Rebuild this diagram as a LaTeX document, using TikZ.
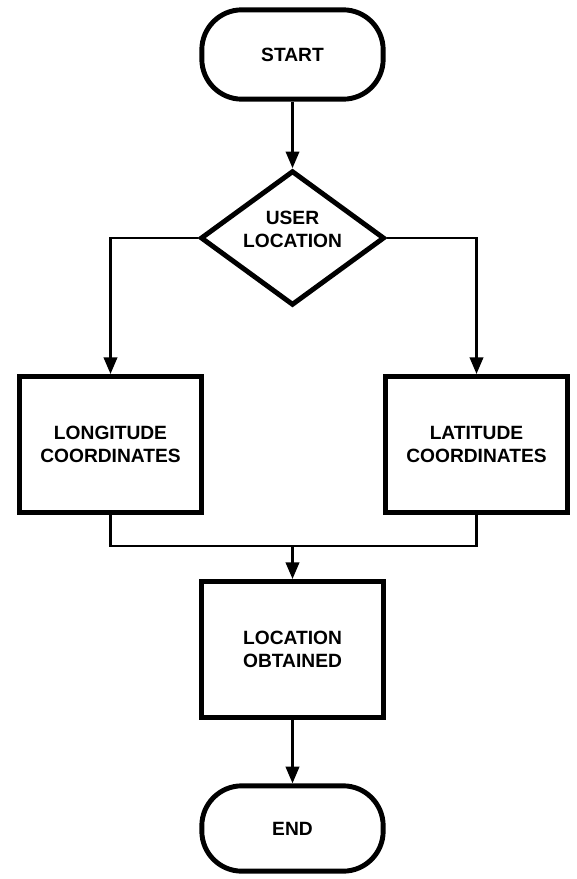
\documentclass[tikz,border=0pt]{standalone}
\usepackage{fontspec}
\setmainfont{Liberation Sans}
\usetikzlibrary{
        arrows.meta,
        positioning,
        shapes.geometric
    }
\tikzset{>={Triangle[width=10pt,length=12.5pt]},auto}
\tikzset{
    term/.style={draw,line width=3.7pt,rectangle,rounded corners=30pt,
        minimum width=136pt,minimum height=67pt,inner sep=0pt,align=center,
        font=\fontsize{14.4}{17.3}\selectfont\bfseries},
    proc/.style={draw,line width=3.7pt,rectangle,
        minimum width=136.5pt,minimum height=102pt,inner sep=0pt,align=center,
        font=\fontsize{14.4}{17.3}\selectfont\bfseries},
    dec/.style={draw,line width=3.7pt,diamond,
        minimum width=138pt,minimum height=101pt,inner sep=0pt},
    txt/.style={align=center,inner sep=0pt,
        font=\fontsize{14.4}{17.3}\selectfont\bfseries},
    conn/.style={line width=2pt}
}

\begin{document}
\begin{tikzpicture}[x=0.75pt,y=-0.75pt]
    \useasboundingbox (0,0) rectangle (577,879);
    \node[term] (start) at (292.5,54.5)  {START};
    \node[dec]  (loc)   at (292.5,238)   {};
    \node[txt]  (loct)  at (292.5,229)   {USER\\LOCATION};
    \node[proc] (lon)   at (110.5,444.5) {LONGITUDE\\COORDINATES};
    \node[proc] (lat)   at (476.5,444.5) {LATITUDE\\COORDINATES};
    \node[proc] (obt)   at (292.5,649.5) {LOCATION\\OBTAINED};
    \node[term,minimum height=64pt] (end) at (292.5,828.5) {END};
    \coordinate (join) at (292.5,546);
    \path[->,conn]
        (start) edge (loc)
        (obt)   edge (end)
        (join)  edge (obt)
    ;
    \draw[->,conn] (loc.west) -| (lon.north);
    \draw[->,conn] (loc.east) -| (lat.north);
    \draw[conn] (lon.south) |- (join) -| (lat.south);
\end{tikzpicture}
\end{document}
